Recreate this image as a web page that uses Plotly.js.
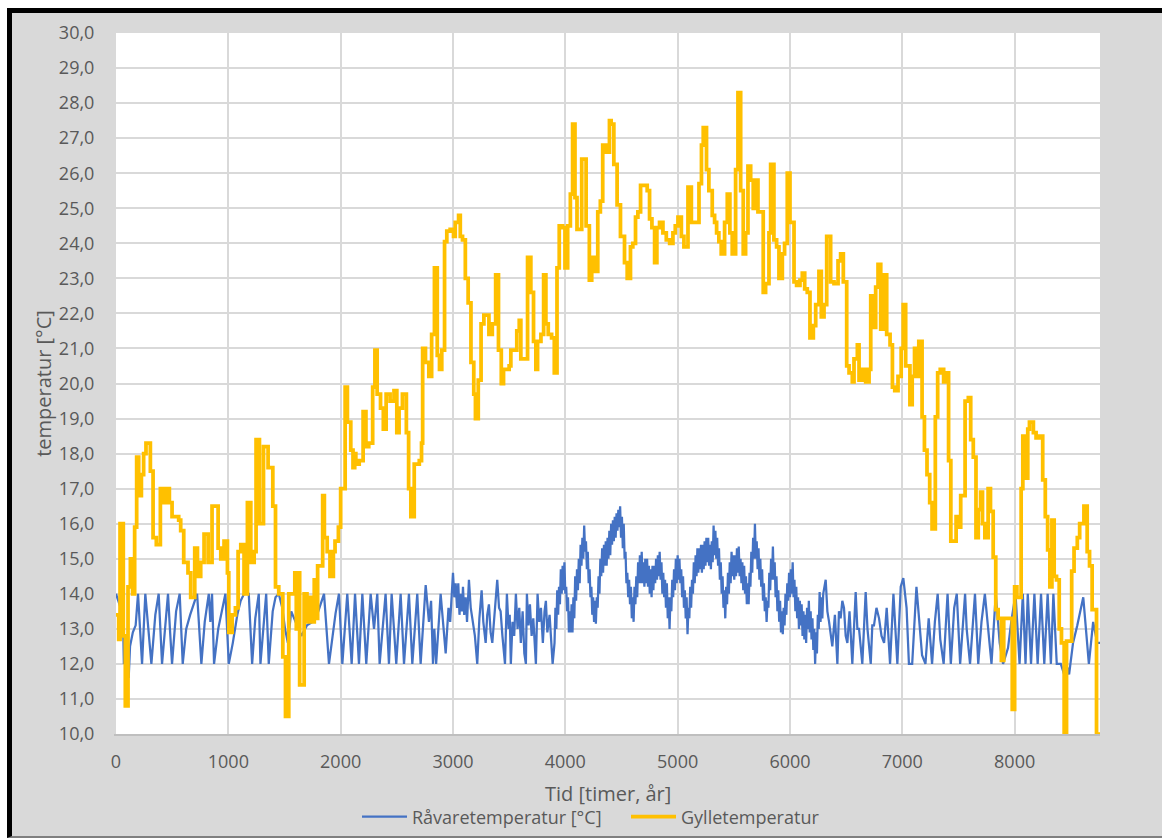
<!DOCTYPE html>
<html>
<head>
<meta charset="utf-8">
<script src="https://cdn.plot.ly/plotly-3.0.1.min.js"></script>
<style>
  html, body { margin:0; padding:0; background:#ffffff; overflow:hidden; }
  #frame { position:absolute; left:7px; top:8px; width:1150px; height:823px;
           border-top:5px solid #000; border-left:5px solid #000; border-bottom:2px solid #7f7f7f;
           background:#d9d9d9; }
  #chart { width:1150px; height:823px; }
</style>
</head>
<body>
<div id="frame"><div id="chart"></div></div>
<script>
// Råvaretemperatur [°C]: [hour, °C] vertices
const rawSeries = [
[0,14.0],[20,13.8],[45,13.5],[62,13.4],[70,12.0],[90,12.2],[113,11.6],[125,12.5],[150,12.9],[175,13.1],[196,14.0],[232,12.0],[261,14.0],[291,13.0],[315,12.0],[350,13.4],[380,14.0],[410,12.0],[440,13.2],[463,14.0],[480,13.0],[499,12.0],[535,13.5],[567,14.0],[594,12.0],[625,13.0],[660,13.4],[700,13.8],[722,14.0],[760,12.0],[790,13.2],[826,14.0],[840,13.2],[855,14.0],[873,12.0],[910,13.0],[945,13.6],[974,14.0],[1004,12.0],[1040,12.6],[1080,13.4],[1110,13.8],[1140,14.0],[1182,14.0],[1212,12.0],[1240,13.3],[1271,14.0],[1286,12.0],[1337,14.0],[1360,12.0],[1395,13.5],[1420,13.9],[1449,14.0],[1480,13.6],[1505,13.0],[1530,12.6],[1560,13.5],[1600,13.2],[1650,12.8],[1700,13.1],[1750,13.2],[1780,13.3],[1810,13.6],[1852,14.0],[1896,12.0],[1920,12.6],[1955,13.45],[1985,14.0],
[2015,12.0],[2059,14.0],[2098,12.0],[2128,14.0],[2163,12.0],[2193,14.0],[2228,12.0],[2267,14.0],[2297,13.0],[2326,14.0],[2347,12.0],[2400,14.0],[2430,12.0],[2454,14.0],[2495,12.0],[2534,14.0],[2564,12.0],[2608,14.0],[2638,12.0],[2682,14.0],[2712,12.0],[2757,14.25],[2786,13.2],[2805,13.8],[2822,12.0],[2834,13.0],[2850,12.0],[2890,14.0],[2935,12.3],[2960,13.6],[2975,13.2],
[3000,14.6],[3012,13.9],[3024,14.3],[3036,13.6],[3047,14.3],[3058,13.4],[3068,14.0],[3080,13.5],[3089,14.2],[3100,13.4],[3113,13.9],[3125,13.2],[3142,14.4],[3158,13.6],[3172,13.3],[3195,12.8],[3216,12.0],[3235,13.3],[3255,14.1],[3270,13.2],[3291,12.6],[3305,13.4],[3320,13.7],[3335,12.9],[3350,12.6],[3372,13.6],[3394,14.4],[3410,13.6],[3424,13.5],[3440,12.8],[3463,12.0],[3480,14.0],[3495,13.0],[3505,13.4],[3515,12.0],[3530,13.2],[3545,12.8],[3560,14.0],[3575,13.0],[3590,13.6],[3604,12.6],[3620,13.5],[3635,12.3],[3649,12.0],[3658,14.0],[3672,13.1],[3685,13.7],[3700,12.8],[3715,13.3],[3738,12.0],[3753,14.0],[3768,13.2],[3783,13.6],[3800,12.6],[3815,13.5],[3827,13.8],[3840,12.9],[3860,13.4],[3875,12.5],[3887,12.0],
[3904,12.6],[3912,13.6],[3920,13.0],[3928,14.1],[3936,13.4],[3944,14.2],[3952,13.7],[3960,14.7],[3968,14.0],[3976,14.8],[3984,14.1],[3992,14.9],[4000,14.0],[4008,14.2],[4016,13.5],[4024,13.9],[4032,12.9],[4040,13.5],[4048,12.9],[4056,13.7],[4064,12.9],[4072,13.9],[4080,13.3],[4088,14.5],[4096,13.8],[4104,14.7],[4112,14.1],[4120,15.0],[4128,14.3],[4136,15.4],[4144,14.8],[4152,15.6],[4160,15.0],[4168,15.95],[4176,15.2],[4184,15.5],[4192,14.7],[4200,15.2],[4208,14.3],[4216,14.7],[4224,13.9],[4232,14.2],[4240,13.4],[4248,13.9],[4256,13.2],[4264,13.8],[4272,13.15],[4280,13.9],[4288,13.6],[4296,14.5],
[4304,14.0],[4312,15.0],[4320,14.5],[4328,15.3],[4336,14.6],[4344,15.4],[4352,14.8],[4360,15.5],[4368,14.8],[4376,15.6],[4384,15.0],[4392,15.8],[4400,15.1],[4408,16.0],[4416,15.4],[4424,16.1],[4432,15.5],[4440,16.2],[4448,15.6],[4456,16.3],[4464,15.8],[4472,16.4],[4480,15.9],[4488,16.5],[4496,15.6],[4504,16.2],[4512,15.3],[4520,16.0],[4528,15.0],[4536,15.2],[4544,14.3],[4552,14.6],[4560,13.9],[4568,14.4],[4576,13.7],[4584,14.2],[4592,13.3],[4600,13.9],[4608,13.2],[4616,14.2],[4624,13.7],[4632,14.5],[4640,13.9],[4648,14.9],[4656,14.3],[4664,15.1],[4672,14.3],[4680,15.2],[4688,14.3],[4696,14.9],
[4704,14.2],[4712,15.0],[4720,14.3],[4728,15.0],[4736,14.2],[4744,14.8],[4752,14.0],[4760,14.7],[4768,13.9],[4776,14.8],[4784,14.1],[4792,14.8],[4800,14.3],[4808,15.0],[4816,14.4],[4824,15.1],[4832,14.5],[4840,15.2],[4848,14.4],[4856,14.9],[4864,14.0],[4872,14.6],[4880,13.9],[4888,14.4],[4896,13.6],[4904,14.3],[4912,13.3],[4920,13.9],[4928,13.0],[4936,13.9],[4944,13.5],[4952,14.4],[4960,13.9],[4968,14.7],[4976,14.1],[4984,15.0],[4992,14.3],[5000,15.1],[5008,14.4],[5016,15.0],[5024,14.3],[5032,14.7],[5040,13.9],[5048,14.5],[5056,13.6],[5064,14.1],[5072,13.3],[5080,13.9],[5088,12.85],[5096,13.6],
[5104,13.3],[5112,14.2],[5120,13.6],[5128,14.4],[5136,14.0],[5144,14.9],[5152,14.3],[5160,15.1],[5168,14.5],[5176,15.3],[5184,14.6],[5192,15.3],[5200,14.7],[5208,15.4],[5216,14.6],[5224,15.4],[5232,14.7],[5240,15.5],[5248,14.8],[5256,15.6],[5264,14.9],[5272,15.6],[5280,14.8],[5288,15.4],[5296,14.7],[5304,15.5],[5312,14.9],[5320,15.95],[5328,15.1],[5336,15.8],[5344,15.0],[5352,15.6],[5360,14.8],[5368,15.3],[5376,14.4],[5384,14.9],[5392,14.0],[5400,14.5],[5408,13.6],[5416,14.1],[5424,13.3],[5432,14.2],[5440,13.7],[5448,14.6],[5456,14.0],[5464,14.9],[5472,14.3],[5480,15.2],[5488,14.5],[5496,15.1],
[5504,14.4],[5512,15.1],[5520,14.5],[5528,15.3],[5536,14.6],[5544,15.35],[5552,14.5],[5560,15.0],[5568,14.3],[5576,14.9],[5584,14.1],[5592,14.8],[5600,14.0],[5608,14.5],[5616,13.7],[5624,14.3],[5632,13.7],[5640,14.6],[5648,14.2],[5656,15.2],[5664,14.6],[5672,15.6],[5680,15.0],[5688,16.0],[5696,15.0],[5704,15.5],[5712,14.7],[5720,15.3],[5728,14.4],[5736,15.0],[5744,14.2],[5752,14.7],[5760,13.8],[5768,14.3],[5776,13.5],[5784,13.9],[5792,13.2],[5800,13.8],[5808,13.6],[5816,14.6],[5824,14.1],[5832,15.0],[5840,14.4],[5848,15.35],[5856,14.4],[5864,14.9],[5872,13.9],[5880,14.5],[5888,13.5],[5896,14.1],
[5904,13.2],[5912,13.8],[5920,12.9],[5928,13.5],[5936,12.85],[5944,13.6],[5952,13.1],[5960,14.0],[5968,13.4],[5976,14.3],[5984,13.8],[5992,14.6],[6000,13.9],[6008,14.7],[6016,14.0],[6024,14.9],[6032,13.9],[6040,14.4],[6048,13.5],[6056,14.2],[6064,13.3],[6072,13.9],[6080,13.0],[6088,13.8],[6096,13.1],[6104,13.7],[6112,12.8],[6120,13.5],[6128,12.7],[6136,13.4],[6144,12.6],[6152,13.6],[6160,13.0],[6168,13.8],[6176,12.9],[6184,13.5],[6192,12.7],[6200,13.3],[6208,12.4],[6216,13.0],[6224,12.0],[6232,12.9],[6240,12.3],[6248,13.4],[6256,13.0],[6264,14.05],[6272,13.2],[6280,13.9],[6288,13.3],[6296,14.0],
[6318,14.4],[6333,13.5],[6348,13.2],[6362,12.9],[6377,12.5],[6400,13.4],[6422,12.0],[6436,13.5],[6451,13.3],[6466,13.8],[6481,13.6],[6496,12.8],[6511,12.6],[6530,13.5],[6555,12.0],[6585,14.05],[6600,13.0],[6615,13.0],[6630,12.4],[6644,12.0],[6674,14.05],[6690,13.0],[6719,12.0],[6733,13.1],[6748,13.1],[6770,13.6],[6793,13.3],[6815,12.8],[6838,12.6],[6861,13.6],[6891,12.0],[6921,14.0],[6956,12.0],[6986,14.2],
[7009,14.45],[7038,13.6],[7059,12.0],[7088,12.0],[7126,14.2],[7156,13.0],[7176,12.25],[7206,12.0],[7235,13.3],[7265,12.0],[7290,13.2],[7315,14.0],[7338,12.7],[7368,12.0],[7403,14.0],[7432,12.0],[7462,13.6],[7485,14.0],[7515,12.0],[7559,14.0],[7573,13.0],[7603,12.0],[7647,14.0],[7676,12.0],[7705,13.2],[7735,14.0],[7764,13.0],[7794,12.0],[7832,14.0],[7867,12.6],[7897,12.0],[7941,12.45],[7970,13.2],
[8008,14.0],[8044,12.0],[8073,14.0],[8097,12.0],[8117,14.0],[8132,13.0],[8146,12.0],[8176,14.0],[8205,12.0],[8235,14.0],[8250,12.8],[8264,12.0],[8294,14.0],[8323,12.0],[8345,14.0],[8375,12.0],[8411,12.0],[8441,11.7],[8470,11.9],[8485,11.7],[8520,12.6],[8558,13.1],[8611,13.9],[8632,13.0],[8661,12.0],[8699,13.2],[8735,12.6],[8760,12.6]
];

// Gylletemperatur: [hour where a new level starts, °C]
const slurrySeries = [
[0,13.4],[24,12.7],[36,16.0],[65,12.8],[83,10.8],[107,14.2],[128,15.0],[148,14.0],[166,15.9],[184,17.9],[202,16.8],[226,17.4],[246,18.0],[267,18.3],[306,17.5],[330,15.6],[359,15.4],[395,17.0],[419,16.6],[445,17.0],[475,16.6],[499,16.2],[558,16.1],[576,15.8],[603,14.9],[641,14.6],[665,13.9],[701,15.3],[725,14.5],[754,14.9],[784,15.7],[820,14.9],[855,16.5],[909,15.3],[933,15.0],[962,15.5],[992,14.6],
[1004,12.9],[1034,13.4],[1063,13.6],[1087,15.2],[1111,15.4],[1140,14.0],[1170,16.6],[1200,14.9],[1230,15.2],[1247,18.4],[1277,16.0],[1313,18.2],[1354,17.6],[1396,16.5],[1420,14.2],[1449,14.0],[1485,12.2],[1509,10.5],[1538,14.0],[1592,14.6],[1605,13.0],[1616,14.6],[1635,11.4],[1675,14.0],[1700,13.2],[1718,13.9],[1735,13.2],[1765,14.4],[1780,13.3],[1795,14.8],[1840,16.8],[1855,15.6],[1880,15.2],[1905,14.5],[1935,15.2],[1950,15.5],[1980,15.9],
[2000,17.0],[2040,19.9],[2060,18.9],[2090,18.1],[2110,17.6],[2125,18.0],[2135,17.7],[2165,17.8],[2200,19.2],[2225,18.2],[2250,18.3],[2285,19.9],[2305,20.95],[2325,19.7],[2355,19.3],[2380,18.7],[2405,19.7],[2440,19.5],[2475,19.8],[2500,18.6],[2520,19.3],[2550,19.7],[2585,18.6],[2605,17.0],[2625,16.2],[2655,17.7],[2700,17.8],[2720,18.3],[2730,21.0],[2755,20.6],[2785,20.2],[2810,21.4],[2835,23.3],[2860,20.8],[2880,20.4],[2900,20.95],[2925,24.05],[2945,24.35],[2975,24.4],
[3005,24.2],[3020,24.6],[3050,24.8],[3065,24.2],[3085,24.1],[3110,23.0],[3135,22.3],[3160,20.6],[3185,19.7],[3200,19.0],[3225,20.1],[3250,21.7],[3275,21.95],[3320,21.4],[3350,21.7],[3380,23.1],[3405,20.95],[3430,20.0],[3450,20.4],[3500,20.5],[3515,20.95],[3568,21.5],[3590,21.8],[3604,20.7],[3664,23.6],[3693,22.6],[3717,21.2],[3738,20.4],[3753,21.2],[3783,21.4],[3807,23.1],[3827,21.7],[3848,21.4],[3878,21.3],[3902,20.3],[3926,23.3],[3946,24.5],[3976,24.45],[3997,23.3],
[4021,24.5],[4045,25.4],[4065,27.4],[4086,25.3],[4104,24.4],[4146,26.4],[4185,24.5],[4214,22.95],[4235,23.6],[4259,23.2],[4289,24.9],[4312,25.2],[4333,26.8],[4363,26.6],[4393,27.5],[4408,27.4],[4432,26.25],[4461,25.1],[4491,24.2],[4527,23.45],[4551,23.0],[4580,23.9],[4601,24.0],[4625,24.75],[4646,24.9],[4670,25.65],[4729,25.5],[4750,24.7],[4771,24.45],[4795,23.45],[4815,24.45],[4839,24.6],[4869,24.3],[4899,24.1],[4929,24.0],[4958,24.3],[4979,24.5],
[5003,24.75],[5033,24.2],[5056,23.9],[5092,25.6],[5122,24.6],[5190,25.7],[5212,26.8],[5228,27.3],[5257,26.1],[5278,25.5],[5308,24.8],[5329,24.6],[5347,24.3],[5367,24.05],[5388,23.7],[5418,24.6],[5442,25.4],[5465,24.3],[5486,23.7],[5516,26.1],[5537,28.3],[5561,25.5],[5584,23.7],[5605,24.3],[5626,26.2],[5650,25.8],[5673,25.0],[5694,25.8],[5715,24.9],[5762,22.6],[5783,22.85],[5813,24.3],[5828,26.25],[5857,24.1],[5881,23.9],[5902,23.0],[5932,23.7],[5952,24.0],[5976,26.0],
[6000,24.6],[6036,22.9],[6059,22.8],[6089,22.95],[6110,23.15],[6131,22.7],[6154,22.6],[6178,21.3],[6208,21.65],[6229,22.25],[6258,23.2],[6279,21.9],[6303,22.25],[6327,24.2],[6362,22.9],[6392,22.85],[6428,23.5],[6451,23.7],[6475,22.9],[6505,20.5],[6526,20.3],[6555,20.05],[6570,20.7],[6600,21.1],[6615,20.1],[6644,20.4],[6674,20.05],[6704,20.4],[6719,22.5],[6742,21.6],[6763,22.75],[6784,23.4],[6808,21.55],[6832,23.1],[6861,21.4],[6891,21.1],[6912,19.9],[6933,19.8],[6962,20.2],[6990,21.0],
[7008,22.25],[7030,20.5],[7068,19.4],[7088,20.2],[7109,21.0],[7132,20.2],[7147,21.2],[7176,19.05],[7197,18.1],[7220,17.4],[7244,16.6],[7265,15.85],[7294,19.05],[7315,20.3],[7338,20.4],[7368,20.05],[7391,20.3],[7412,17.8],[7432,15.5],[7479,16.2],[7500,15.9],[7520,16.8],[7559,19.5],[7588,19.6],[7609,18.4],[7632,17.9],[7656,15.6],[7676,16.4],[7697,16.9],[7714,16.0],[7735,15.6],[7764,17.0],[7785,16.35],[7809,15.05],[7832,13.55],[7853,13.3],[7882,12.1],[7903,13.3],[7979,10.7],
[8000,14.2],[8020,13.9],[8058,17.0],[8073,18.5],[8097,17.3],[8117,18.7],[8132,18.9],[8167,18.6],[8191,18.45],[8220,18.5],[8250,17.25],[8273,16.2],[8294,15.25],[8314,14.2],[8332,16.1],[8352,14.5],[8373,14.4],[8397,13.0],[8417,12.6],[8441,10.0],[8462,12.65],[8508,14.65],[8529,15.3],[8558,15.6],[8579,16.0],[8617,16.5],[8646,15.2],[8667,14.8],[8690,13.55],[8729,10.0],[8760,10.0]
];

const seriesNames = ['Råvaretemperatur [°C]', 'Gylletemperatur'];
const xTitle = 'Tid [timer, år]';
const yTitle = 'temperatur [°C]';

const fontFam = '"Open Sans", "Liberation Sans", sans-serif';
const grey = '#595959';

const traces = [
  { x: rawSeries.map(p => p[0]), y: rawSeries.map(p => p[1]), name: seriesNames[0],
    type: 'scatter', mode: 'lines', line: { color: '#4472c4', width: 2.25 }, hoverinfo: 'skip' },
  { x: slurrySeries.map(p => p[0]), y: slurrySeries.map(p => p[1]), name: seriesNames[1],
    type: 'scatter', mode: 'lines', line: { color: '#ffc000', width: 3.75, shape: 'hv' }, hoverinfo: 'skip' }
];

const layout = {
  width: 1150, height: 823,
  margin: { l: 104, r: 62, t: 20, b: 102 },
  paper_bgcolor: '#d9d9d9',
  plot_bgcolor: '#ffffff',
  separators: ',.',
  font: { family: fontFam, size: 18, color: grey },
  showlegend: true,
  legend: { orientation: 'h', xref: 'container', yref: 'container',
            x: 0.3, xanchor: 'left', y: 0.0231, yanchor: 'middle',
            itemwidth: 45, entrywidth: 209, entrywidthmode: 'pixels',
            bgcolor: 'rgba(0,0,0,0)', font: { family: fontFam, size: 18, color: grey } },
  annotations: [
    { text: xTitle, xref: 'paper', yref: 'paper', x: 0.5, y: 0, xanchor: 'center', yanchor: 'middle',
      yshift: -59, showarrow: false, font: { family: fontFam, size: 20, color: grey } }
  ],
  xaxis: {
    range: [0, 8760], dtick: 1000, tick0: 0, tickformat: 'd',
    showgrid: true, gridcolor: '#d9d9d9', gridwidth: 2,
    zeroline: false, showline: true, linecolor: '#bfbfbf', linewidth: 2,
    ticks: '', ticklabelstandoff: 10,
    tickfont: { family: fontFam, size: 18, color: grey },
    fixedrange: true
  },
  yaxis: {
    range: [10, 30], dtick: 1, tick0: 10, tickformat: '.1f',
    showgrid: true, gridcolor: '#d9d9d9', gridwidth: 2,
    zeroline: false, showline: true, linecolor: '#d9d9d9', linewidth: 2,
    ticks: '', ticklabelstandoff: 16,
    tickfont: { family: fontFam, size: 18, color: grey },
    title: { text: yTitle, font: { family: fontFam, size: 20, color: grey } },
    fixedrange: true
  }
};

Plotly.newPlot('chart', traces, layout, { displayModeBar: false, staticPlot: true });
</script>
</body>
</html>
